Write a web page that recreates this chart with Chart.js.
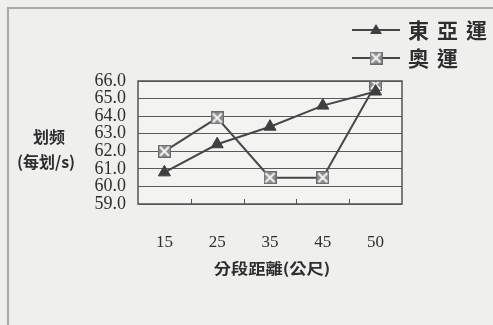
<!DOCTYPE html>
<html>
<head>
<meta charset="utf-8">
<script src="https://cdn.jsdelivr.net/npm/chart.js@4/dist/chart.umd.min.js"></script>
<style>
  html, body { margin: 0; padding: 0; background: #efefed; }
  #wrap { position: relative; width: 493px; height: 325px; overflow: hidden; }
  #frame { position: absolute; left: 7px; top: 7px; right: -2px; bottom: -2px;
           border-top: 2px solid #a9a9a7; border-left: 2px solid #a9a9a7; }
  canvas { position: absolute; left: 0; top: 0; }
</style>
</head>
<body>
<div id="wrap">
  <div id="frame"></div>
  <canvas id="c" width="493" height="325"></canvas>
</div>
<script>
// Segment distances (m) and stroke rates per segment
const categories = ['15', '25', '35', '45', '50'];
const eastAsianGames = [60.8, 62.4, 63.4, 64.6, 65.4];
const olympicGames = [62.0, 63.9, 60.5, 60.5, 65.8];
const seriesNames = ['東亞運', '奧運'];
const yTitle = ['划频', '(每划/s)'];
const xTitle = '分段距離(公尺)';

const LINE = '#474747';
const TEXT = '#2e2e2e';

// Square marker with a light X through it
function boxX(size) {
  const cv = document.createElement('canvas');
  cv.width = size; cv.height = size;
  const g = cv.getContext('2d');
  g.fillStyle = '#8c8c8c';
  g.fillRect(0, 0, size, size);
  g.strokeStyle = '#6a6a6a';
  g.lineWidth = 1;
  g.strokeRect(0.5, 0.5, size - 1, size - 1);
  g.strokeStyle = '#f2f2f2';
  g.lineWidth = 2.2;
  g.beginPath();
  g.moveTo(2, 2); g.lineTo(size - 2, size - 2);
  g.moveTo(size - 2, 2); g.lineTo(2, size - 2);
  g.stroke();
  return cv;
}
const boxMarker = boxX(13);

// Axis titles, small inward x ticks and the line-through-marker legend
const decorations = {
  id: 'decorations',
  afterDraw(chart) {
    const ctx = chart.ctx;
    const xs = chart.scales.x;
    const area = chart.chartArea;
    ctx.save();
    // inward tick marks between categories
    ctx.strokeStyle = '#555';
    ctx.lineWidth = 1;
    for (let i = 1; i < categories.length; i++) {
      const px = Math.round((xs.getPixelForTick(i - 1) + xs.getPixelForTick(i)) / 2) + 0.5;
      ctx.beginPath();
      ctx.moveTo(px, area.bottom);
      ctx.lineTo(px, area.bottom - 5);
      ctx.stroke();
    }
    // y title, horizontal, two lines
    ctx.fillStyle = TEXT;
    ctx.textAlign = 'center';
    ctx.textBaseline = 'middle';
    ctx.font = 'bold 16px "Noto Sans CJK TC", "Noto Sans CJK SC", sans-serif';
    ctx.fillText(yTitle[0], 49, 137);
    ctx.fillText(yTitle[1], 46, 162);
    // x title
    ctx.font = 'bold 15px "Noto Sans CJK TC", sans-serif';
    ctx.save();
    ctx.translate(272, 268);
    ctx.scale(1.15, 1);
    ctx.fillText(xTitle, 0, 0);
    ctx.restore();
    // legend
    const rows = [30, 58];
    chart.data.datasets.forEach((ds, i) => {
      const y = rows[i];
      ctx.strokeStyle = LINE;
      ctx.lineWidth = 2;
      ctx.beginPath();
      ctx.moveTo(352, y);
      ctx.lineTo(400, y);
      ctx.stroke();
      if (ds.pointStyle === 'triangle') {
        ctx.fillStyle = '#3f3f3f';
        ctx.beginPath();
        ctx.moveTo(376, y - 6);
        ctx.lineTo(382, y + 4);
        ctx.lineTo(370, y + 4);
        ctx.closePath();
        ctx.fill();
      } else {
        ctx.drawImage(boxMarker, 376 - 6.5, y - 6.5);
      }
      ctx.fillStyle = TEXT;
      ctx.textAlign = 'left';
      ctx.font = 'bold 21px "Noto Sans CJK TC", sans-serif';
      ctx.letterSpacing = '8px';
      ctx.fillText(ds.label, 408, y);
      ctx.letterSpacing = '0px';
    });
    ctx.restore();
  }
};

// Plot background and frame
const plotFrame = {
  id: 'plotFrame',
  beforeDraw(chart) {
    const { ctx, chartArea: a } = chart;
    ctx.save();
    ctx.fillStyle = '#f3f3f1';
    ctx.fillRect(a.left, a.top, a.right - a.left, a.bottom - a.top);
    ctx.restore();
  },
  afterDraw(chart) {
    const { ctx, chartArea: a } = chart;
    ctx.save();
    ctx.strokeStyle = '#555';
    ctx.lineWidth = 1.5;
    ctx.strokeRect(a.left, a.top, a.right - a.left, a.bottom - a.top);
    ctx.restore();
  }
};

new Chart(document.getElementById('c'), {
  type: 'line',
  data: {
    labels: categories,
    datasets: [
      {
        label: seriesNames[0],
        data: eastAsianGames,
        borderColor: LINE,
        borderWidth: 2,
        pointStyle: 'triangle',
        pointRadius: 7,
        pointBackgroundColor: '#3f3f3f',
        pointBorderColor: '#3f3f3f',
        pointBorderWidth: 1,
        tension: 0
      },
      {
        label: seriesNames[1],
        data: olympicGames,
        borderColor: LINE,
        borderWidth: 2,
        pointStyle: boxMarker,
        pointRadius: 7,
        tension: 0
      }
    ]
  },
  options: {
    responsive: false,
    animation: false,
    events: [],
    layout: { padding: { left: 0, top: 81, right: 91, bottom: 0 } },
    plugins: { legend: { display: false }, tooltip: { enabled: false } },
    scales: {
      x: {
        offset: true,
        grid: { display: false },
        border: { display: false },
        ticks: {
          color: TEXT,
          font: { family: '"Liberation Serif", serif', size: 17 },
          padding: 20,
          maxRotation: 0
        },
        afterFit(scale) { scale.height = 121; }
      },
      y: {
        min: 59,
        max: 66,
        grid: { color: '#5a5a5a', lineWidth: 1, drawTicks: false },
        border: { display: false },
        ticks: {
          stepSize: 1,
          autoSkip: false,
          color: TEXT,
          font: { family: '"Liberation Serif", serif', size: 18, lineHeight: 1 },
          padding: 12,
          callback: v => Number(v).toFixed(1)
        },
        afterFit(scale) { scale.width = 138; }
      }
    }
  },
  plugins: [plotFrame, decorations]
});
</script>
</body>
</html>
